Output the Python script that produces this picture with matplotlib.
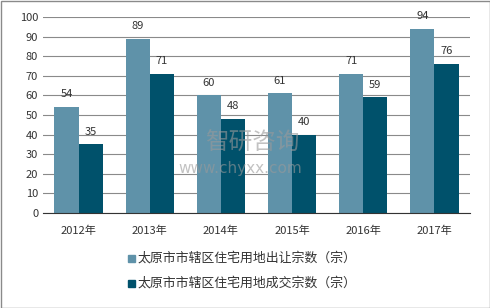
import numpy as np
import matplotlib.pyplot as plt
from matplotlib.patches import Rectangle

plt.rcParams['font.family'] = ['Noto Sans CJK SC', 'DejaVu Sans']

years = ['2012年', '2013年', '2014年', '2015年', '2016年', '2017年']
supplied = [54, 89, 60, 61, 71, 94]
traded = [35, 71, 48, 40, 59, 76]
labels = ['太原市市辖区住宅用地出让宗数（宗）', '太原市市辖区住宅用地成交宗数（宗）']
c1 = '#5f92a9'
c2 = '#00516b'

fig = plt.figure(figsize=(4.9, 3.08), dpi=100)
ax = fig.add_axes([43/490, 1 - 213/308, 427/490, 196/308])

x = np.arange(len(years))
w = 0.34
b1 = ax.bar(x - w/2, supplied, w, color=c1, zorder=2)
b2 = ax.bar(x + w/2, traded, w, color=c2, zorder=2)
for bars, vals in ((b1, supplied), (b2, traded)):
    for r, v in zip(bars, vals):
        ax.text(r.get_x() + r.get_width()/2, v + 4, str(v), ha='center', va='bottom',
                fontsize=8, color='#333333')

ax.set_xlim(-0.5, len(years) - 0.5)
ax.set_ylim(0, 100)
ax.set_yticks(range(0, 101, 10))
ax.set_xticks(x)
ax.set_xticklabels(years)
ax.tick_params(length=0, labelsize=8, colors='#333333')
ax.tick_params(axis='x', pad=9)
ax.grid(axis='y', color='#8a8a8a', linewidth=0.8, zorder=0)
for s in ['top', 'right', 'left']:
    ax.spines[s].set_visible(False)
ax.spines['bottom'].set_color('#333333')

# watermark
fig.text(205/490, 1 - 143/308, '智研咨询', fontsize=17, color='#9a9a9a', alpha=0.6,
         ha='left', va='center')
fig.text(178/490, 1 - 168/308, 'www.chyxx.com', fontsize=11, color='#9a9a9a', alpha=0.6,
         ha='left', va='center', family='DejaVu Sans')

# legend
for i, (lab, c) in enumerate(zip(labels, [c1, c2])):
    yy = 1 - (258 + 25*i)/308
    fig.patches.append(Rectangle((128/490, yy - 3.5/308), 7/490, 7/308,
                                 transform=fig.transFigure, color=c, figure=fig))
    fig.text(138/490, yy, lab, fontsize=9.3, color='#333333', va='center', ha='left')

fig.patches.append(Rectangle((0.5/490, 0.5/308), 489/490, 307/308, transform=fig.transFigure,
                             fill=False, edgecolor='#8a8a8a', linewidth=1, figure=fig))

fig.savefig('out.png', dpi=100)
